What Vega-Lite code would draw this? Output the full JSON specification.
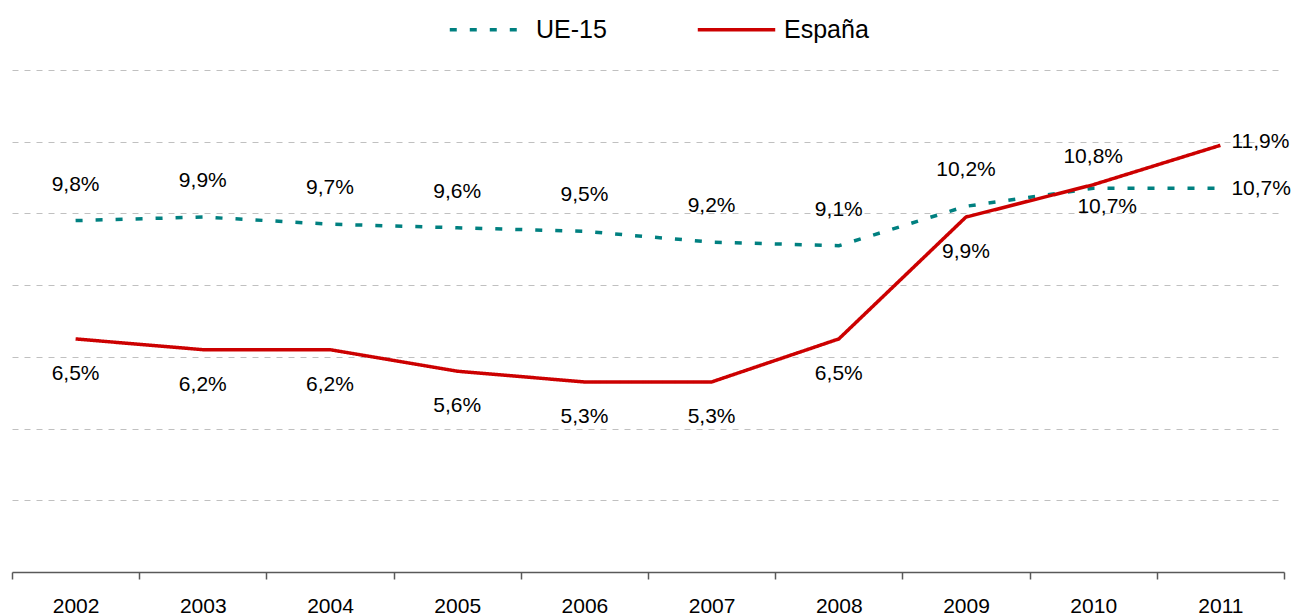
{
  "$schema": "https://vega.github.io/schema/vega-lite/v6.json",
  "width": 1272,
  "height": 502,
  "autosize": {"type": "none"},
  "padding": {"left": 12, "top": 70, "right": 11, "bottom": 43},
  "background": "white",
  "config": {
    "font": "Liberation Sans",
    "view": {"stroke": null},
    "locale": {"number": {"decimal": ",", "thousands": ".", "grouping": [3], "currency": ["", " €"]}}
  },
  "data": {
    "values": [
      {"year": "2002", "series": "UE-15", "v": 0.098},
      {"year": "2003", "series": "UE-15", "v": 0.099},
      {"year": "2004", "series": "UE-15", "v": 0.097},
      {"year": "2005", "series": "UE-15", "v": 0.096},
      {"year": "2006", "series": "UE-15", "v": 0.095},
      {"year": "2007", "series": "UE-15", "v": 0.092},
      {"year": "2008", "series": "UE-15", "v": 0.091},
      {"year": "2009", "series": "UE-15", "v": 0.102},
      {"year": "2010", "series": "UE-15", "v": 0.107},
      {"year": "2011", "series": "UE-15", "v": 0.107},
      {"year": "2002", "series": "España", "v": 0.065},
      {"year": "2003", "series": "España", "v": 0.062},
      {"year": "2004", "series": "España", "v": 0.062},
      {"year": "2005", "series": "España", "v": 0.056},
      {"year": "2006", "series": "España", "v": 0.053},
      {"year": "2007", "series": "España", "v": 0.053},
      {"year": "2008", "series": "España", "v": 0.065},
      {"year": "2009", "series": "España", "v": 0.099},
      {"year": "2010", "series": "España", "v": 0.108},
      {"year": "2011", "series": "España", "v": 0.119}
    ]
  },
  "encoding": {
    "x": {
      "field": "year", "type": "ordinal",
      "scale": {"type": "band", "paddingInner": 0, "paddingOuter": 0},
      "axis": {
        "title": null, "labelAngle": 0, "tickBand": "extent", "grid": false,
        "domainColor": "#595959", "domainWidth": 1.5, "tickColor": "#595959", "tickWidth": 1.5, "tickSize": 7,
        "labelFontSize": 21, "labelColor": "#000000", "labelPadding": 16
      }
    },
    "y": {
      "field": "v", "type": "quantitative",
      "scale": {"domain": [0, 0.14], "nice": false, "zero": true},
      "axis": {
        "title": null, "labels": false, "ticks": false, "domain": false,
        "values": [0.02, 0.04, 0.06, 0.08, 0.1, 0.12, 0.14],
        "grid": true, "gridColor": "#C0C0C0", "gridDash": [6, 6], "gridWidth": 1
      }
    }
  },
  "layer": [
    {
      "mark": {"type": "line", "strokeWidth": 3.5, "strokeCap": "butt"},
      "encoding": {
        "color": {
          "field": "series", "type": "nominal",
          "scale": {"domain": ["UE-15", "España"], "range": ["#008080", "#CC0000"]},
          "legend": {
            "title": null, "orient": "none", "direction": "horizontal",
            "legendX": 436, "legendY": -81,
            "labelFontSize": 25, "labelColor": "#000000", "labelOffset": 7,
            "symbolType": "stroke", "symbolSize": 6000, "symbolStrokeWidth": 3.5,
            "columnPadding": 83
          }
        },
        "strokeDash": {
          "field": "series", "type": "nominal",
          "scale": {"domain": ["UE-15", "España"], "range": [[7, 13], [1, 0]]},
          "legend": {
            "title": null, "orient": "none", "direction": "horizontal",
            "legendX": 436, "legendY": -81,
            "labelFontSize": 25, "labelColor": "#000000", "labelOffset": 7,
            "symbolType": "stroke", "symbolSize": 6000, "symbolStrokeWidth": 3.5,
            "columnPadding": 83
          }
        }
      }
    },
    {
      "transform": [{"filter": {"and": [{"field": "series", "equal": "UE-15"}, {"field": "year", "oneOf": ["2002","2003","2004","2005","2006","2007","2008","2009"]}]}}],
      "mark": {"type": "text", "fontSize": 21, "dy": -36, "align": "center", "baseline": "middle", "color": "#000000"},
      "encoding": {"text": {"field": "v", "type": "quantitative", "format": ".1%"}}
    },
    {
      "transform": [{"filter": {"and": [{"field": "series", "equal": "UE-15"}, {"field": "year", "equal": "2010"}]}}],
      "mark": {"type": "text", "fontSize": 21, "dy": 19, "dx": 14, "align": "center", "baseline": "middle", "color": "#000000"},
      "encoding": {"text": {"field": "v", "type": "quantitative", "format": ".1%"}}
    },
    {
      "transform": [{"filter": {"and": [{"field": "series", "equal": "España"}, {"field": "year", "oneOf": ["2002","2003","2004","2005","2006","2007","2008","2009"]}]}}],
      "mark": {"type": "text", "fontSize": 21, "dy": 35, "align": "center", "baseline": "middle", "color": "#000000"},
      "encoding": {"text": {"field": "v", "type": "quantitative", "format": ".1%"}}
    },
    {
      "transform": [{"filter": {"and": [{"field": "series", "equal": "España"}, {"field": "year", "equal": "2010"}]}}],
      "mark": {"type": "text", "fontSize": 21, "dy": -28, "align": "center", "baseline": "middle", "color": "#000000"},
      "encoding": {"text": {"field": "v", "type": "quantitative", "format": ".1%"}}
    },
    {
      "transform": [{"filter": {"and": [{"field": "series", "equal": "España"}, {"field": "year", "equal": "2011"}]}}],
      "mark": {"type": "text", "fontSize": 21, "dx": 11, "dy": -3, "align": "left", "baseline": "middle", "color": "#000000"},
      "encoding": {"text": {"field": "v", "type": "quantitative", "format": ".1%"}}
    },
    {
      "transform": [{"filter": {"and": [{"field": "series", "equal": "UE-15"}, {"field": "year", "equal": "2011"}]}}],
      "mark": {"type": "text", "fontSize": 21, "dx": 11, "dy": 1, "align": "left", "baseline": "middle", "color": "#000000"},
      "encoding": {"text": {"field": "v", "type": "quantitative", "format": ".1%"}}
    }
  ]
}
